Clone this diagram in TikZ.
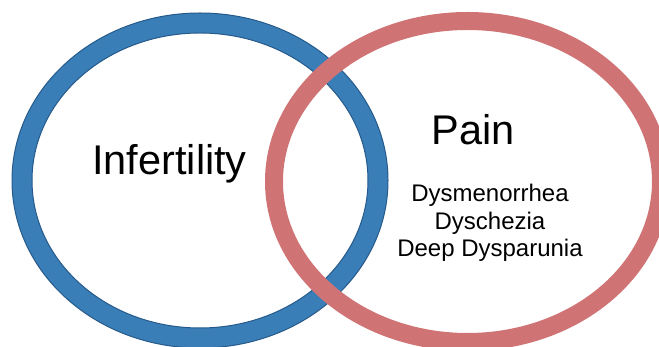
\documentclass[tikz,border=0pt]{standalone}
\usepackage{fontspec}
\setmainfont{Liberation Sans}
\usepackage{tikz}
\usetikzlibrary{positioning}
\definecolor{ringblue}{RGB}{58,126,184}
\definecolor{ringblueline}{RGB}{38,90,138}
\definecolor{ringpink}{RGB}{207,115,116}

\begin{document}
\begin{tikzpicture}[
  x=1pt, y=1pt,
  bluering/.style={fill=ringblue, draw=ringblueline, line width=1pt, even odd rule},
  pinkring/.style={draw=ringpink, line width=18pt},
  bigtext/.style={font=\fontsize{41.5}{48}\selectfont, inner sep=0pt, anchor=base},
  listtext/.style={font=\fontsize{24}{27.6}\selectfont, align=center, inner sep=0pt}
]
\useasboundingbox (0,0) rectangle (659,347);
\clip (0,0) rectangle (659,347);

% Left ring (Infertility)
\path[bluering] (200,166.5) ellipse [x radius=188, y radius=167.5]
                (200,166.5) ellipse [x radius=168, y radius=147.5];

% Right ring (Pain), drawn over the left one
\draw[pinkring] (467.5,165.5) ellipse [x radius=193.5, y radius=160.5];

% Labels
\node[bigtext] (infertility) at (169.5,172) {Infertility};
\node[bigtext] (pain) at (473,202) {Pain};
\node[listtext] (symptoms) at (490,124) {Dysmenorrhea\\Dyschezia\\Deep Dysparunia};

\end{tikzpicture}
\end{document}
